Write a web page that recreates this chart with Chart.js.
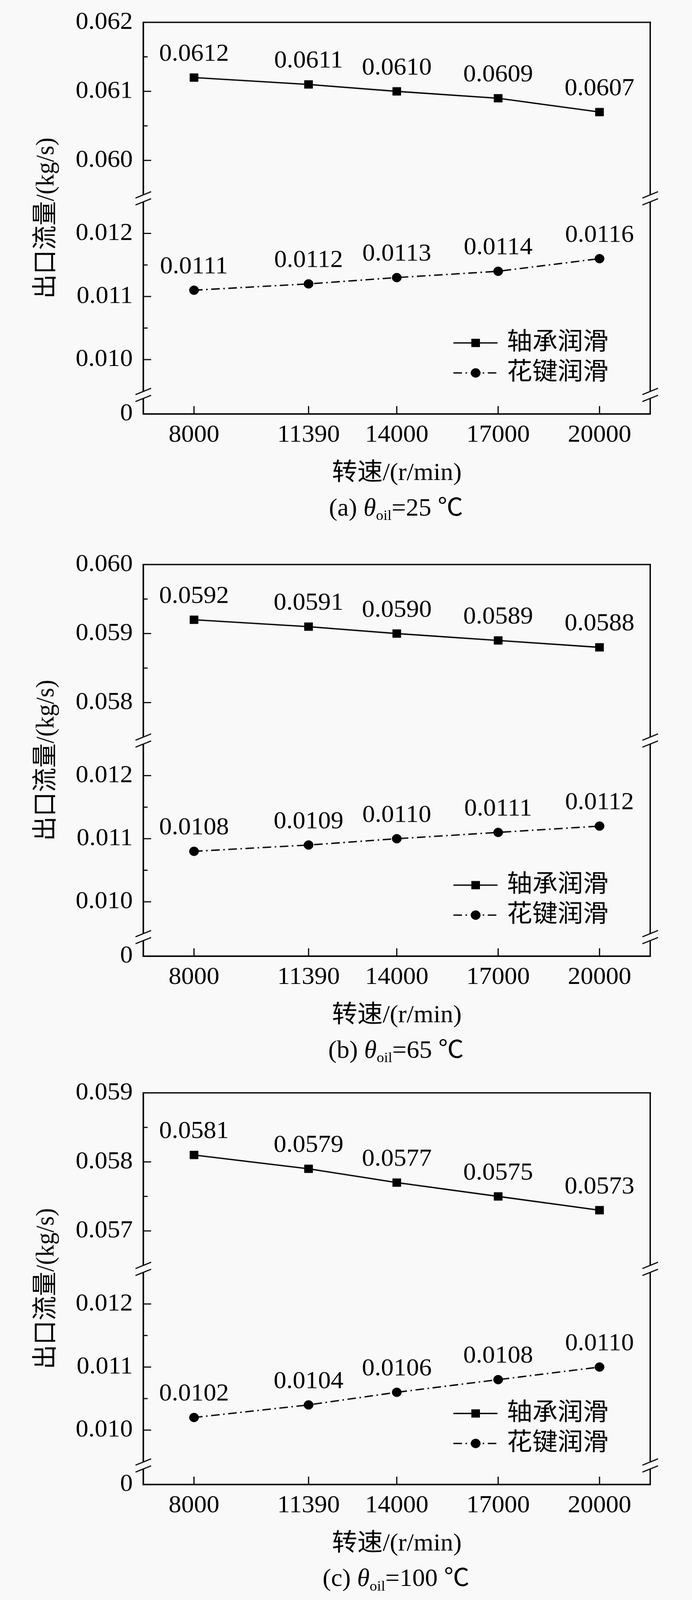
<!DOCTYPE html>
<html>
<head>
<meta charset="utf-8">
<script src="https://cdn.jsdelivr.net/npm/chart.js@4/dist/chart.umd.min.js"></script>
<style>
  html, body { margin:0; padding:0; background:#f9f9f9; overflow:hidden; }
  body { width:1772px; height:4267px; position:relative; }
  #root { position:absolute; left:0; top:0; width:1772px; height:4267px; transform-origin:0 0; }
  .panel { position:absolute; left:0; width:1772px; }
  .panel canvas { position:absolute; left:0; top:0; }
  .cap { position:absolute; left:14px; width:2000px; text-align:center; white-space:nowrap;
         font-family:"Liberation Serif","Noto Sans CJK SC",serif; font-size:65px; line-height:65px; color:#000; }
  .cap .sub { font-size:38px; position:relative; top:12px; }
</style>
</head>
<body>
<div id="root"></div>
<script>
// ---------------- data ----------------
const speeds = [8000, 11390, 14000, 17000, 20000];
const xTicks = [8000, 11390, 14000, 17000, 20000];
const xRange = [6500, 21500];
const seriesNames = ['轴承润滑', '花键润滑'];

const bearingA = [0.0612, 0.0611, 0.0610, 0.0609, 0.0607];
const splineA  = [0.0111, 0.0112, 0.0113, 0.0114, 0.0116];
const bearingB = [0.0592, 0.0591, 0.0590, 0.0589, 0.0588];
const splineB  = [0.0108, 0.0109, 0.0110, 0.0111, 0.0112];
const bearingC = [0.0581, 0.0579, 0.0577, 0.0575, 0.0573];
const splineC  = [0.0102, 0.0104, 0.0106, 0.0108, 0.0110];

const topTicksA = [0.060, 0.061, 0.062];
const topTicksB = [0.058, 0.059, 0.060];
const topTicksC = [0.057, 0.058, 0.059];
const topMinorA = [0.0605, 0.0615];
const topMinorB = [0.0585, 0.0595];
const topMinorC = [0.0575, 0.0585];
const topRangeA = [0.05945, 0.062];
const topRangeB = [0.05745, 0.060];
const topRangeC = [0.05645, 0.059];

const midTicks = [0.010, 0.011, 0.012];
const midMinor = [0.0105, 0.0115];
const midRange = [0.00944, 0.012556];
const botTicks = [0];
const botRange = [0, 1];

const captionLetters = ['a', 'b', 'c'];
const captionTemps = ['25', '65', '100'];

// ---------------- layout / style ----------------
const FONT = '"Liberation Serif", "Noto Sans CJK SC", serif';
const BG = '#f9f9f9';
const panels = [
  {bearing: bearingA, spline: splineA, topTicks: topTicksA, topMinor: topMinorA, topRange: topRangeA, top: 0,    height: 1446},
  {bearing: bearingB, spline: splineB, topTicks: topTicksB, topMinor: topMinorB, topRange: topRangeB, top: 1446, height: 1409},
  {bearing: bearingC, spline: splineC, topTicks: topTicksC, topMinor: topMinorC, topRange: topRangeC, top: 2855, height: 1412}
];

function line(ctx, x1, y1, x2, y2) { ctx.beginPath(); ctx.moveTo(x1, y1); ctx.lineTo(x2, y2); ctx.stroke(); }

const decor = {
  id: 'decor',
  afterDraw(chart) {
    const {ctx, chartArea: ca, scales} = chart;
    const p = chart.options.plugins.decor;
    ctx.save();
    ctx.strokeStyle = '#000';
    ctx.fillStyle = '#000';
    ctx.lineCap = 'butt';
    // x tick marks (inward)
    ctx.lineWidth = 3;
    for (const v of xTicks) {
      const px = scales.x.getPixelForValue(v);
      line(ctx, px, ca.bottom, px, ca.bottom - 21);
    }
    // y tick marks (inward)
    const yDefs = [['yTop', p.topTicks, p.topMinor], ['yMid', midTicks, midMinor]];
    for (const [id, maj, mnr] of yDefs) {
      const s = scales[id];
      for (const v of maj) {
        const py = s.getPixelForValue(v);
        if (py > s.top + 3 && py < s.bottom - 3) line(ctx, ca.left, py, ca.left + 20, py);
      }
      for (const v of mnr) {
        const py = s.getPixelForValue(v);
        line(ctx, ca.left, py, ca.left + 11, py);
      }
    }
    // frame top & right
    ctx.lineWidth = 3.5;
    line(ctx, ca.left - 2, ca.top, ca.right + 2, ca.top);
    line(ctx, ca.right, ca.top, ca.right, ca.bottom + 2);
    // axis breaks
    const breaks = [scales.yTop.bottom, scales.yMid.bottom];
    for (const yb of breaks) {
      for (const ax of [ca.left, ca.right]) {
        ctx.fillStyle = BG;
        ctx.beginPath();
        ctx.moveTo(ax - 5, yb - 9.3 + 2.1);
        ctx.lineTo(ax + 5, yb - 9.3 - 2.1);
        ctx.lineTo(ax + 5, yb + 9.3 - 2.1);
        ctx.lineTo(ax - 5, yb + 9.3 + 2.1);
        ctx.closePath();
        ctx.fill();
        ctx.lineWidth = 3;
        for (const c of [yb - 9.3, yb + 9.3]) line(ctx, ax - 20, c + 8.4, ax + 20, c - 8.4);
      }
    }
    ctx.fillStyle = '#000';
    // data labels
    ctx.font = '65px ' + FONT;
    ctx.textAlign = 'center';
    ctx.textBaseline = 'middle';
    chart.data.datasets.forEach((ds, i) => {
      const meta = chart.getDatasetMeta(i);
      meta.data.forEach((pt, j) => ctx.fillText(ds.data[j].y.toFixed(4), pt.x, pt.y - 62));
    });
    // legend
    const lx1 = ca.right - 504, lx2 = ca.right - 391, lm = ca.right - 447, lt = ca.right - 367;
    chart.data.datasets.forEach((ds, i) => {
      const ly = ca.top + 855 + i * 80;
      ctx.lineWidth = ds.borderWidth;
      ctx.setLineDash(ds.borderDash || []);
      line(ctx, lx1, ly, lx2, ly);
      ctx.setLineDash([]);
      ctx.beginPath();
      if (ds.pointStyle === 'rect') ctx.rect(lm - 11, ly - 11, 22, 22);
      else ctx.arc(lm, ly, 12.5, 0, Math.PI * 2);
      ctx.fill();
      ctx.textAlign = 'left';
      ctx.fillText(ds.label, lt, ly);
    });
    // y axis title
    ctx.save();
    ctx.translate(120, (ca.top + ca.bottom) / 2);
    ctx.rotate(-Math.PI / 2);
    ctx.textAlign = 'center';
    ctx.textBaseline = 'middle';
    ctx.fillText('出口流量/(kg/s)', 0, 0);
    ctx.restore();
    ctx.restore();
  }
};

function yScale(range, ticks, sw, weight, fmt) {
  return {
    type: 'linear', position: 'left', stack: 'y', stackWeight: sw, weight: weight,
    min: range[0], max: range[1],
    afterBuildTicks: s => { s.ticks = ticks.map(v => ({value: v})); },
    afterFit: s => { s.width = 367; },
    ticks: {autoSkip: false, font: {family: FONT, size: 65, lineHeight: 1}, color: '#000', padding: 27, callback: fmt},
    grid: {drawOnChartArea: false, drawTicks: false},
    border: {display: true, width: 4, color: '#000'}
  };
}

const root = document.getElementById('root');
panels.forEach((p, k) => {
  const div = document.createElement('div');
  div.className = 'panel';
  div.style.top = p.top + 'px';
  div.style.height = p.height + 'px';
  const cv = document.createElement('canvas');
  cv.width = 1772; cv.height = p.height;
  cv.style.width = '1772px'; cv.style.height = p.height + 'px';
  div.appendChild(cv);
  const cap = document.createElement('div');
  cap.className = 'cap';
  cap.style.top = (1353 - 32.5) + 'px';
  cap.innerHTML = '(' + captionLetters[k] + ') <i>θ</i><span class="sub">oil</span>=' + captionTemps[k] + ' ℃';
  div.appendChild(cap);
  root.appendChild(div);

  new Chart(cv, {
    type: 'line',
    data: {
      datasets: [
        {label: seriesNames[0], data: speeds.map((s, i) => ({x: s, y: p.bearing[i]})), yAxisID: 'yTop', xAxisID: 'x',
         borderColor: '#000', borderWidth: 3.6, pointStyle: 'rect', pointRadius: 15, pointBorderWidth: 1,
         pointBackgroundColor: '#000', pointBorderColor: '#000', tension: 0, fill: false},
        {label: seriesNames[1], data: speeds.map((s, i) => ({x: s, y: p.spline[i]})), yAxisID: 'yMid', xAxisID: 'x',
         borderColor: '#000', borderWidth: 3.6, borderDash: [22, 9, 4, 9], pointStyle: 'circle', pointRadius: 12, pointBorderWidth: 1,
         pointBackgroundColor: '#000', pointBorderColor: '#000', tension: 0, fill: false}
      ]
    },
    options: {
      responsive: false, animation: false, devicePixelRatio: 1,
      layout: {padding: {left: 0, right: 107, top: 56, bottom: p.height - 1304}},
      plugins: {legend: {display: false}, tooltip: {enabled: false},
                decor: {topTicks: p.topTicks, topMinor: p.topMinor}},
      scales: {
        x: {
          type: 'linear', position: 'bottom', min: xRange[0], max: xRange[1],
          afterBuildTicks: s => { s.ticks = xTicks.map(v => ({value: v})); },
          afterFit: s => { s.height = 200; },
          ticks: {autoSkip: false, maxRotation: 0, font: {family: FONT, size: 65, lineHeight: 1}, color: '#000', padding: 24.5,
                  callback: v => String(v)},
          grid: {drawOnChartArea: false, drawTicks: false},
          border: {display: true, width: 4, color: '#000'},
          title: {display: true, text: '转速/(r/min)', color: '#000', font: {family: FONT, size: 65, lineHeight: 1},
                  padding: {top: 0, bottom: 8.5}}
        },
        yTop: yScale(p.topRange, p.topTicks, 471, 3, v => v.toFixed(3)),
        yMid: yScale(midRange, midTicks, 526, 2, v => v.toFixed(3)),
        yBot: yScale(botRange, botTicks, 51, 1, v => '0')
      }
    },
    plugins: [decor]
  });
});

// fit the 4267 px tall figure into the visible window height, if the viewport is shorter
function fit() {
  const h = window.innerHeight || 4267;
  const s = Math.min(1, h / 4267);
  root.style.transform = s < 0.999 ? 'scale(1,' + s + ')' : 'none';
}
fit();
window.addEventListener('resize', fit);
</script>
</body>
</html>
